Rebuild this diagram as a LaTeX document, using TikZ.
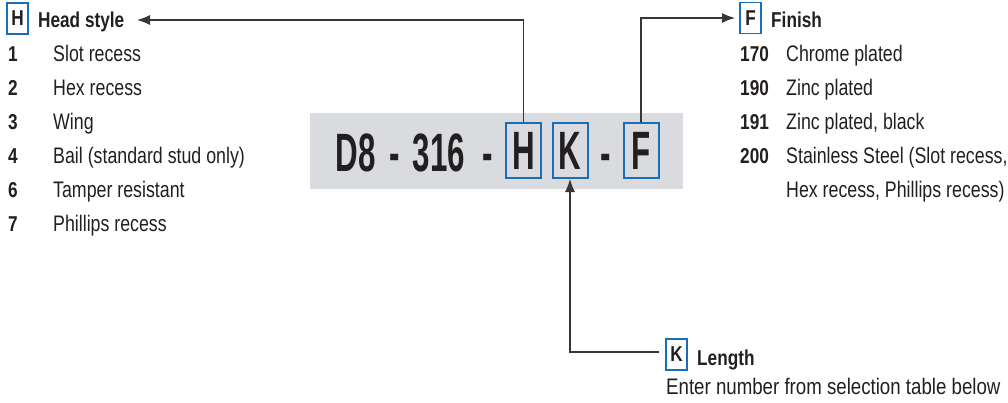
\documentclass[tikz,border=0pt]{standalone}
\usepackage{fontspec}
\setmainfont{Liberation Sans}[FakeStretch=0.8]
\newfontfamily\regfont{Liberation Sans}[FakeStretch=0.79]
\newfontfamily\widefont{Liberation Sans}[FakeStretch=0.83]
\newfontfamily\bigfont{Liberation Sans}[FakeStretch=0.58]
\usetikzlibrary{arrows.meta}
\definecolor{ink}{HTML}{231F20}
\definecolor{bluebox}{HTML}{1C6DB8}
\definecolor{graybg}{HTML}{D9DBDF}
\begin{document}
\begin{tikzpicture}[x=1pt,y=-1pt,
  every node/.style={inner sep=0pt, text=ink},
  txt/.style={anchor=base west, font=\fontsize{22.5}{26}\regfont},
  wtxt/.style={anchor=base west, font=\fontsize{22.5}{26}\widefont},
  btxt/.style={anchor=base west, font=\fontsize{21.5}{24}\selectfont\bfseries},
  smallbox/.style={draw=bluebox, line width=1.5pt, minimum width=21pt, minimum height=31pt, font=\fontsize{21.5}{24}\selectfont\bfseries},
  bigbox/.style={draw=bluebox, line width=2pt, minimum width=35pt, minimum height=55pt, font=\fontsize{54}{60}\bigfont\bfseries},
  bigtxt/.style={anchor=base, font=\fontsize{54}{60}\bigfont\bfseries},
  conn/.style={draw=ink!90, line width=1.2pt, -{Latex[length=13pt,width=10pt]}}]
\useasboundingbox (0,0) rectangle (1008,402);
% part number band
\fill[graybg] (310,113) rectangle (683,189);
\node[bigtxt] (d8) at (355.5,171) {D8};
\node[bigtxt] (da1) at (394.5,171) {-};
\node[bigtxt] (n316) at (439,171) {316};
\node[bigtxt] (da2) at (488,171) {-};
\node[bigbox] (Hbig) at (523.5,150.5) {H};
\node[bigbox] (Kbig) at (570,150.5) {K};
\node[bigtxt] (da3) at (606,171) {-};
\node[bigbox] (Fbig) at (641,150.5) {F};
% head style
\node[smallbox] (Hs) at (17.5,18.5) {H};
\node[btxt] (hs) at (38,27) {Head style};
\coordinate (hsTip) at (137,20);
\node[btxt] (h1) at (8,61) {1};  \node[txt] (t1) at (53,61) {Slot recess};
\node[btxt] (h2) at (8,95) {2};  \node[txt] (t2) at (53,95) {Hex recess};
\node[btxt] (h3) at (8,129) {3}; \node[txt] (t3) at (53,129) {Wing};
\node[btxt] (h4) at (8,163) {4}; \node[txt] (t4) at (53,163) {Bail (standard stud only)};
\node[btxt] (h6) at (8,197) {6}; \node[txt] (t6) at (53,197) {Tamper resistant};
\node[btxt] (h7) at (8,231) {7}; \node[txt] (t7) at (53,231) {Phillips recess};
% finish
\node[smallbox] (Fs) at (750.5,18) {F};
\node[btxt] (fs) at (771,27) {Finish};
\coordinate (fTip) at (735,18);
\node[btxt] (f1) at (740,61) {170};  \node[txt] (ft1) at (786,61) {Chrome plated};
\node[btxt] (f2) at (740,95) {190};  \node[txt] (ft2) at (786,95) {Zinc plated};
\node[btxt] (f3) at (740,129) {191}; \node[txt] (ft3) at (786,129) {Zinc plated, black};
\node[btxt] (f4) at (740,163) {200}; \node[txt] (ft4) at (786,163) {Stainless Steel (Slot recess,};
\node[txt] (ft5) at (786,197) {Hex recess, Phillips recess)};
% length
\node[smallbox] (Ks) at (676.5,354.5) {K};
\node[btxt] (ks) at (697,365) {Length};
\node[wtxt] (ke) at (666,394) {Enter number from selection table below};
\coordinate (kTip) at (659,352);
% connectors
\draw[conn] (Hbig.north) |- (hsTip);
\draw[conn] (Fbig.north) |- (fTip);
\draw[conn] (kTip) -| (Kbig.south);
\end{tikzpicture}
\end{document}
